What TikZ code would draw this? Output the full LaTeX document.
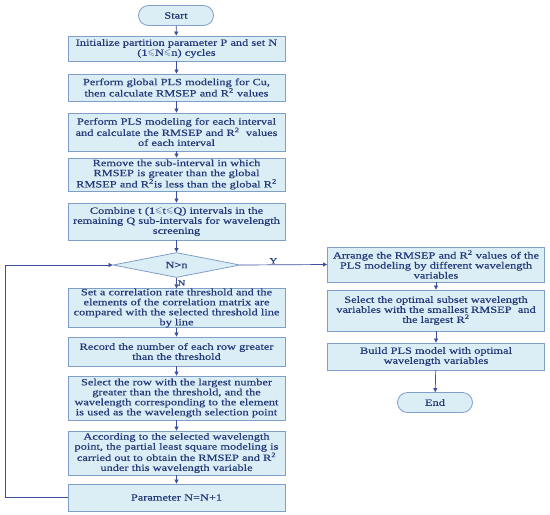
\documentclass[tikz,border=0pt]{standalone}
\usepackage{amssymb}
\usepackage{fontspec}
\setmainfont{Liberation Serif}[FakeStretch=1.3,FakeBold=0.5]
\usetikzlibrary{arrows.meta,shapes.geometric}
\definecolor{boxfill}{HTML}{DCEEF5}
\definecolor{boxline}{HTML}{7F9FC8}
\definecolor{txt}{HTML}{23397A}
\definecolor{arr}{HTML}{3D4E9E}
\newcommand{\mylsq}{\ensuremath{\leqslant}}
\tikzset{
  proc/.style={draw=boxline, fill=boxfill, line width=0.8pt, text=txt, align=center,
    minimum width=217pt, text width=214pt, inner sep=0pt,
    font=\fontsize{9.5}{10}\selectfont},
  term/.style={draw=boxline, fill=boxfill, line width=0.8pt, text=txt, rounded corners=10pt,
    minimum width=75pt, minimum height=20pt, inner sep=0pt, font=\fontsize{9.5}{10}\selectfont},
  dec/.style={draw=boxline, fill=boxfill, line width=0.8pt, text=txt, diamond, aspect=5,
    minimum width=127pt, minimum height=25pt, inner sep=0pt, font=\fontsize{9.5}{10}\selectfont},
  flow/.style={draw=arr, line width=0.7pt, -{Triangle[length=4pt,width=4pt]}},
  lbl/.style={text=txt, font=\fontsize{8}{9}\selectfont, inner sep=1pt}
}
\begin{document}
\begin{tikzpicture}[x=1pt,y=-1pt]
\useasboundingbox (0,0) rectangle (550,515);
\node[term] (start) at (176,15.5) {Start};
\node[proc, minimum height=25pt] (b1) at (176.5,48.5) {Initialize partition parameter P and set N\\(1\mylsq N\mylsq n) cycles};
\node[proc, minimum height=27pt] (b2) at (176.5,87.5) {Perform global PLS modeling for Cu,\\then calculate RMSEP and R\textsuperscript{2} values};
\node[proc, minimum height=38pt] (b3) at (176.5,132) {Perform PLS modeling for each interval\\and calculate the RMSEP and R\textsuperscript{2}\ \ values\\of each interval};
\node[proc, minimum height=33pt] (b4) at (176.5,174.5) {Remove the sub-interval in which\\RMSEP is greater than the global\\RMSEP and R\textsuperscript{2}is less than the global R\textsuperscript{2}};
\node[proc, minimum height=37pt] (b5) at (176.5,221.5) {Combine t (1\mylsq t\mylsq Q) intervals in the\\remaining Q sub-intervals for wavelength\\screening};
\node[dec] (d) at (176.5,265) {N>n};
\node[proc, minimum height=38pt] (b6) at (176.5,308) {Set a correlation rate threshold and the\\elements of the correlation matrix are\\compared with the selected threshold line\\by line};
\node[proc, minimum height=29pt] (b7) at (176.5,351.5) {Record the number of each row greater\\than the threshold};
\node[proc, minimum height=44pt] (b8) at (176.5,398) {Select the row with the largest number\\greater than the threshold, and the\\wavelength corresponding to the element\\is used as the wavelength selection point};
\node[proc, minimum height=44pt] (b9) at (176.5,453) {According to the selected wavelength\\point, the partial least square modeling is\\carried out to obtain the RMSEP and R\textsuperscript{2}\\under this wavelength variable};
\node[proc, minimum height=27pt] (b10) at (176.5,497.5) {Parameter N=N+1};
\node[proc, minimum height=35pt] (r1) at (436,264.5) {Arrange the RMSEP and R\textsuperscript{2} values of the\\PLS modeling by different wavelength\\variables};
\node[proc, minimum height=41pt] (r2) at (436,310.5) {Select the optimal subset wavelength\\variables with the smallest RMSEP\ \ and\\the largest R\textsuperscript{2}};
\node[proc, minimum height=27pt] (r3) at (436,356.5) {Build PLS model with optimal\\wavelength variables};
\node[term] (end) at (435,402.5) {End};
\coordinate (lb) at (5,497.5);
\coordinate (lt) at (5,265);
\draw[flow] (start) -- (b1);
\draw[flow] (b1) -- (b2);
\draw[flow] (b2) -- (b3);
\draw[flow] (b3) -- (b4);
\draw[flow] (b4) -- (b5);
\draw[flow] (b5) -- (d);
\draw[flow] (d) -- node[lbl, right, pos=0.5] {N} (b6);
\draw[flow] (b6) -- (b7);
\draw[flow] (b7) -- (b8);
\draw[flow] (b8) -- (b9);
\draw[flow] (b9) -- (b10);
\draw[flow] (b10.west) -- (lb) -- (lt) -- (d.west);
\draw[flow] (d.east) -- node[lbl, above, pos=0.38] {Y} (r1.west);
\draw[flow] (r1) -- (r2);
\draw[flow] (r2) -- (r3);
\draw[flow] (r3) -- (end);
\end{tikzpicture}
\end{document}
